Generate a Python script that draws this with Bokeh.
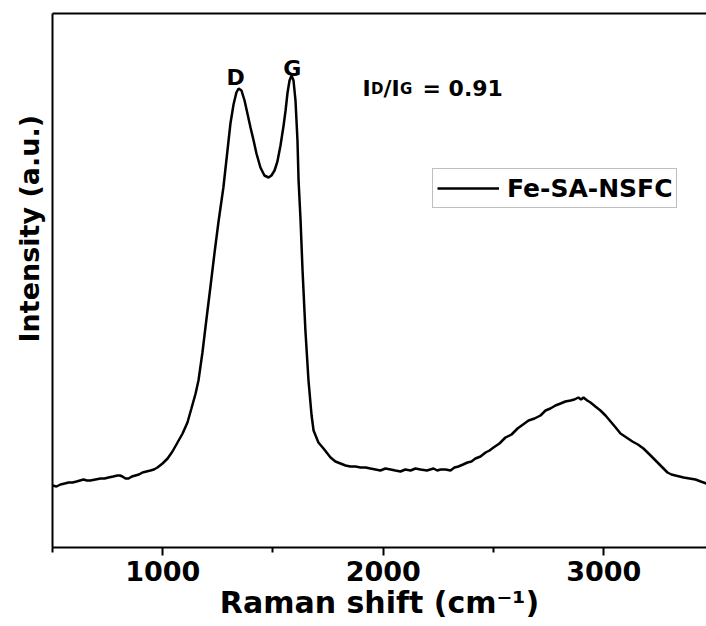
from bokeh.plotting import figure
from bokeh.models import Range1d, LinearAxis, FixedTicker, Label, Legend, LegendItem, Title
from bokeh.embed import file_html
from bokeh.resources import INLINE

# ---- data ----
raman_shift = [500, 518, 536, 555, 573, 591, 609, 625, 641, 656, 672, 695, 718, 736, 754,
               775, 795, 806, 817, 831, 845, 860, 876, 892, 908, 926, 944, 960, 976,
               999, 1022, 1044, 1067, 1090, 1112, 1130, 1149, 1162, 1180, 1198, 1217, 1235,
               1253, 1275, 1294, 1307, 1321, 1334, 1344, 1357, 1371, 1384, 1398, 1412, 1425,
               1443, 1461, 1480, 1493, 1507, 1520, 1534, 1548, 1557, 1566, 1575, 1584, 1593,
               1602, 1611, 1616, 1625, 1634, 1647, 1661, 1675, 1684, 1706, 1729, 1761, 1783,
               1806, 1829, 1851, 1874, 1897, 1920, 1942, 1965, 1987, 2010, 2033, 2055, 2078,
               2100, 2124, 2146, 2169, 2198, 2228, 2245, 2260, 2283, 2305, 2323, 2341,
               2362, 2382, 2400, 2418, 2441, 2464, 2482, 2500, 2527, 2554, 2582, 2609, 2634,
               2659, 2686, 2713, 2736, 2758, 2781, 2804, 2826, 2849, 2867, 2885, 2897, 2908,
               2925, 2940, 2962, 2985, 3008, 3031, 3054, 3076, 3103, 3130, 3155, 3180, 3208,
               3235, 3262, 3289, 3307, 3325, 3344, 3362, 3389, 3416, 3440, 3466]
intensity = [62, 61, 63, 64, 65, 65, 66, 67, 68, 67, 67, 68, 69, 69, 70,
             71, 72, 72, 71, 69, 69, 71, 72, 73, 75, 76, 77, 78, 80,
             84, 89, 96, 105, 114, 125, 139, 154, 167, 195, 228, 262, 295,
             326, 360, 398, 424, 443, 455, 459, 457, 447, 434, 420, 407, 394,
             380, 372, 370, 372, 377, 386, 402, 422, 437, 455, 467, 472, 467,
             447, 407, 367, 327, 277, 217, 167, 132, 117, 105, 99, 90, 86,
             84, 82, 81, 81, 80, 80, 79, 78, 77, 79, 78, 77, 76,
             78, 77, 79, 78, 77, 79, 77, 78, 78, 77, 80, 81,
             83, 85, 86, 89, 91, 95, 97, 100, 104, 110, 113, 119, 123,
             127, 129, 132, 137, 139, 142, 144, 146, 147, 148, 150, 148, 150,
             147, 145, 141, 137, 132, 126, 120, 114, 110, 106, 103, 99, 93,
             87, 81, 75, 73, 72, 71, 70, 69, 68, 66, 64]
series_name = "Fe-SA-NSFC"
x_ticks = [1000, 2000, 3000]
x_minor_ticks = [500, 1500, 2500, 3500]
peak_labels = ["D", "G"]
peak_label_x = [1330, 1588]
peak_label_y = [470, 479]
ratio_value = "0.91"

FONT = "DejaVu Sans"

p = figure(width=706, height=626, output_backend="svg", toolbar_location=None,
           x_range=Range1d(500, 3466), y_range=Range1d(0, 534),
           x_axis_location=None, y_axis_location=None,
           min_border_left=52, min_border_right=0, min_border_top=13, min_border_bottom=79,
           background_fill_color="white", border_fill_color="white")
p.outline_line_color = None
p.grid.visible = False

line = p.line(raman_shift, intensity, line_color="black", line_width=2.5)

# bottom axis
xa = LinearAxis(ticker=FixedTicker(ticks=x_ticks, minor_ticks=x_minor_ticks),
                axis_line_width=2, axis_line_color="black",
                major_tick_line_width=2, major_tick_out=8, major_tick_in=0,
                minor_tick_line_width=2, minor_tick_out=5, minor_tick_in=0,
                major_label_text_font=FONT, major_label_text_font_style="bold",
                major_label_text_font_size="27px", major_label_text_color="black",
                major_label_standoff=5,
                axis_label="Raman shift (cm\u207b\u00b9)", axis_label_text_font=FONT,
                axis_label_text_font_style="bold", axis_label_text_font_size="30px",
                axis_label_text_color="black", axis_label_standoff=1)
p.add_layout(xa, "below")

# left axis (line only)
ya = LinearAxis(ticker=FixedTicker(ticks=[]), axis_line_width=2, axis_line_color="black",
                major_tick_out=0, major_tick_in=0, minor_tick_out=0, minor_tick_in=0,
                major_label_text_font_size="0px")
p.add_layout(ya, "left")

# top frame line
ta = LinearAxis(ticker=FixedTicker(ticks=[]), axis_line_width=2, axis_line_color="black",
                major_tick_out=0, major_tick_in=0, minor_tick_out=0, minor_tick_in=0,
                major_label_text_font_size="0px")
p.add_layout(ta, "above")

# y title
p.add_layout(Title(text="Intensity (a.u.)", align="left", offset=205, standoff=15,
                   text_font=FONT, text_font_style="bold", text_font_size="27px",
                   text_color="black"), "left")

# peak labels
for t, xx, yy in zip(peak_labels, peak_label_x, peak_label_y):
    p.add_layout(Label(x=xx, y=yy, text=t, text_align="center", text_baseline="alphabetic",
                       text_font=FONT, text_font_style="bold", text_font_size="22px",
                       text_color="black"))

# I_D/I_G = 0.91 annotation
ax0, ay0 = 1906, 459
parts = [("I", 0, "22px"), ("D", 8.5, "15px"), ("/I", 21, "22px"),
         ("G", 37.5, "15px"), ("= " + ratio_value, 60, "22px")]
for t, off, fs in parts:
    p.add_layout(Label(x=ax0, y=ay0, x_offset=off, text=t, text_align="left",
                       text_baseline="alphabetic", text_font=FONT, text_font_style="bold",
                       text_font_size=fs, text_color="black"))

legend = Legend(items=[LegendItem(label=series_name, renderers=[line])],
                location=(380, 339), margin=0, padding=4, spacing=0,
                glyph_width=62, glyph_height=30, label_standoff=8,
                label_text_font=FONT, label_text_font_style="bold",
                label_text_font_size="25px", label_text_color="black",
                border_line_color="#808080", border_line_width=1,
                background_fill_color="white", background_fill_alpha=1.0)
p.add_layout(legend)

open("out.html", "w").write(file_html(p, INLINE))
